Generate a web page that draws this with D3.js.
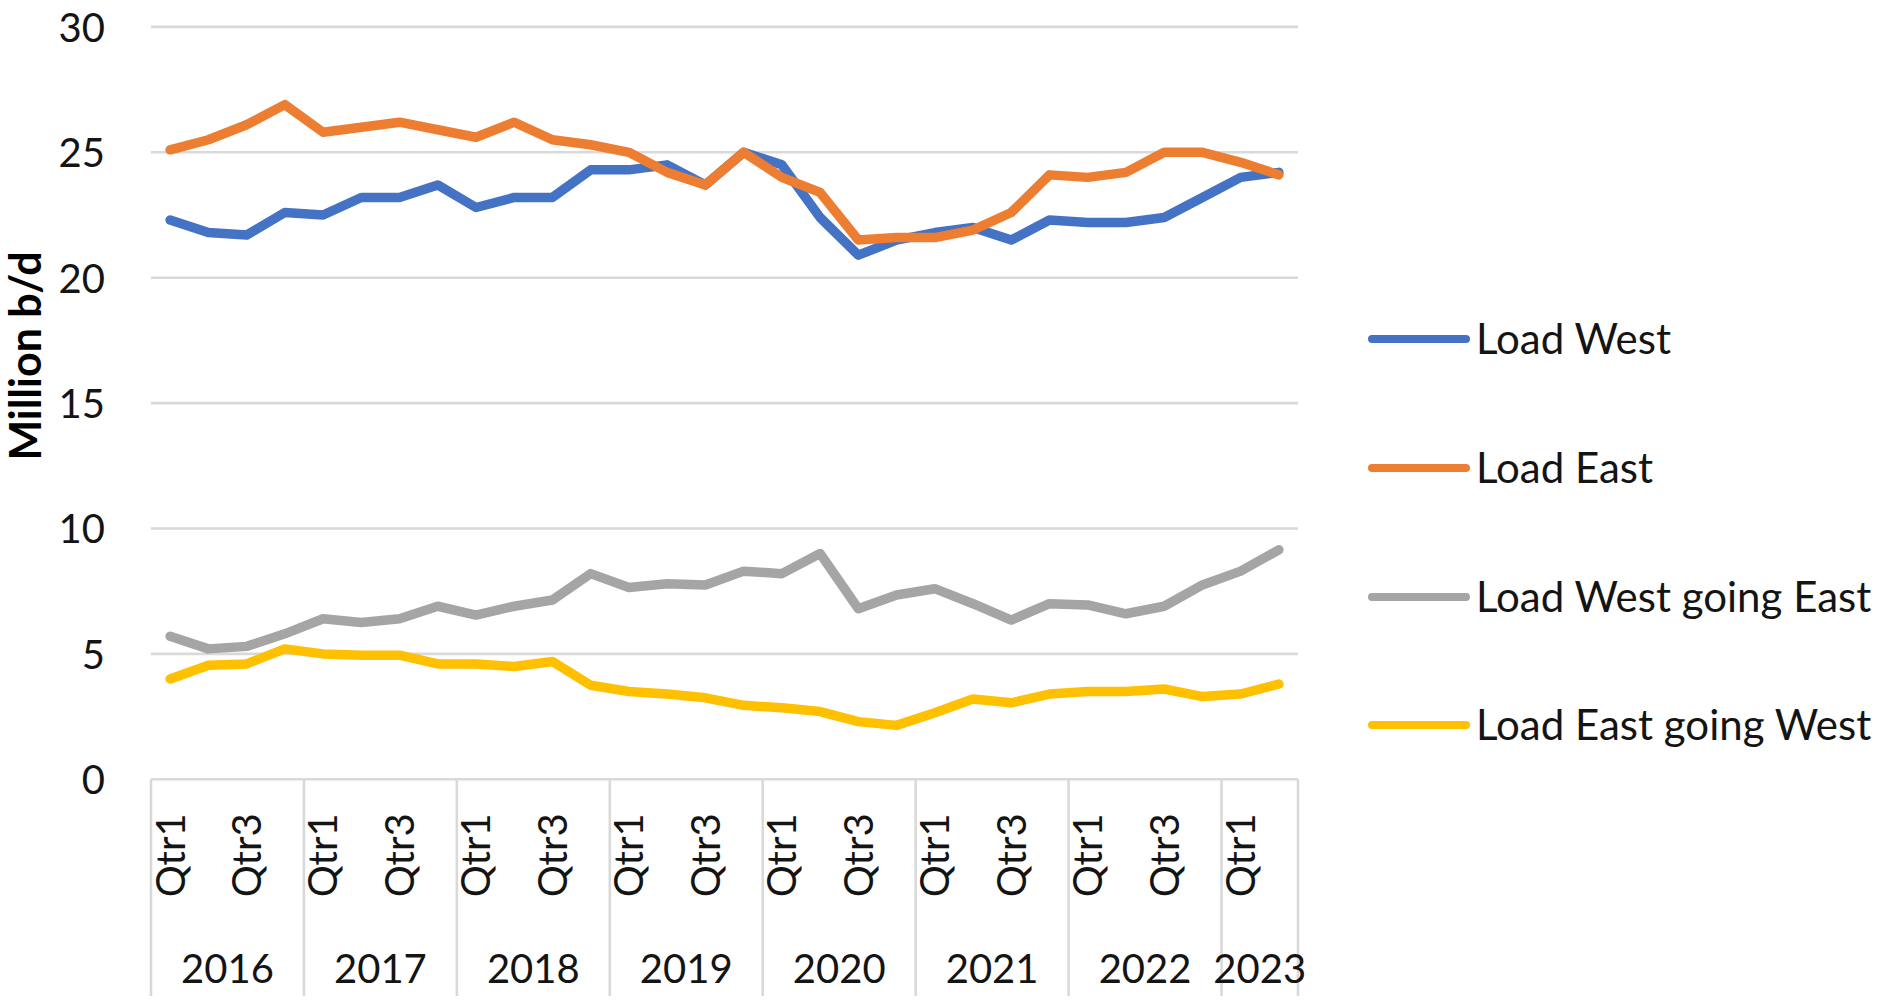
<!DOCTYPE html>
<html>
<head>
<meta charset="utf-8">
<script src="https://cdnjs.cloudflare.com/ajax/libs/d3/7.8.5/d3.min.js"></script>
<style>
  html, body { margin: 0; padding: 0; background: #ffffff; }
  svg { display: block; }
</style>
</head>
<body>
<svg id="chart" width="1900" height="1001"></svg>
<script>
// ---------- data ----------
const years = ["2016", "2017", "2018", "2019", "2020", "2021", "2022", "2023"];
const quarters = ["Qtr1", "Qtr2", "Qtr3", "Qtr4"];
const quartersInLastYear = 2;

const loadWest = [22.3, 21.8, 21.7, 22.6, 22.5, 23.2, 23.2, 23.7, 22.8, 23.2,
                  23.2, 24.3, 24.3, 24.5, 23.7, 25.0, 24.5, 22.4, 20.9, 21.5,
                  21.8, 22.0, 21.5, 22.3, 22.2, 22.2, 22.4, 23.2, 24.0, 24.2];
const loadEast = [25.1, 25.5, 26.1, 26.9, 25.8, 26.0, 26.2, 25.9, 25.6, 26.2,
                  25.5, 25.3, 25.0, 24.2, 23.7, 25.0, 24.0, 23.4, 21.5, 21.6,
                  21.6, 21.9, 22.6, 24.1, 24.0, 24.2, 25.0, 25.0, 24.6, 24.1];
const loadWestGoingEast = [5.7, 5.2, 5.3, 5.8, 6.4, 6.25, 6.4, 6.9, 6.55, 6.9,
                  7.15, 8.2, 7.65, 7.8, 7.75, 8.3, 8.2, 9.0, 6.8, 7.35,
                  7.6, 7.0, 6.35, 7.0, 6.95, 6.6, 6.9, 7.75, 8.3, 9.15];
const loadEastGoingWest = [4.0, 4.55, 4.6, 5.2, 5.0, 4.95, 4.95, 4.6, 4.6, 4.5,
                  4.7, 3.75, 3.5, 3.4, 3.25, 2.95, 2.85, 2.7, 2.3, 2.15,
                  2.65, 3.2, 3.05, 3.4, 3.5, 3.5, 3.6, 3.3, 3.4, 3.8];

const seriesNames = ["Load West", "Load East", "Load West going East", "Load East going West"];
const seriesColors = ["#4472C4", "#ED7D31", "#A5A5A5", "#FFC000"];
const yTicks = [0, 5, 10, 15, 20, 25, 30];
const yTitle = "Million b/d";

// ---------- derived categories ----------
const categories = [];
years.forEach((y, yi) => {
  const nq = yi === years.length - 1 ? quartersInLastYear : quarters.length;
  for (let q = 0; q < nq; q++) categories.push({ year: y, quarter: quarters[q], key: y + "-" + quarters[q] });
});
const seriesData = [loadWest, loadEast, loadWestGoingEast, loadEastGoingWest];

// ---------- layout ----------
const FONT = "Lato, 'Open Sans', sans-serif";
const plot = { left: 151, right: 1298, top: 26.9, bottom: 779.3 };
const gridColor = "#D9D9D9";
const textColor = "#141414";

const svg = d3.select("#chart");

const x = d3.scaleBand()
  .domain(categories.map(c => c.key))
  .range([plot.left, plot.right])
  .padding(0);
const xc = k => x(k) + x.bandwidth() / 2;

const y = d3.scaleLinear().domain([0, 30]).range([plot.bottom, plot.top]);

// gridlines
svg.append("g").selectAll("line")
  .data(yTicks)
  .join("line")
  .attr("x1", plot.left).attr("x2", plot.right)
  .attr("y1", d => y(d)).attr("y2", d => y(d))
  .attr("stroke", gridColor).attr("stroke-width", 2.6);

// y axis labels via d3 axis
const yAxis = d3.axisLeft(y).tickValues(yTicks).tickSize(0).tickPadding(0).tickFormat(d3.format("d"));
const yg = svg.append("g").attr("transform", `translate(${plot.left - 46},0)`).call(yAxis);
yg.select(".domain").remove();
yg.selectAll("text")
  .attr("font-family", FONT).attr("font-size", 40).attr("fill", textColor)
  .attr("dy", "0.36em");

// y title
svg.append("text")
  .attr("transform", `translate(41,356) rotate(-90)`)
  .attr("text-anchor", "middle")
  .attr("font-family", FONT).attr("font-size", 43).attr("font-weight", "bold")
  .attr("fill", "#000")
  .text(yTitle);

// category axis: separators between years
const yearStarts = [];
years.forEach(yr => {
  const first = categories.find(c => c.year === yr);
  yearStarts.push(x(first.key));
});
yearStarts.push(plot.right);
svg.append("g").selectAll("line")
  .data(yearStarts)
  .join("line")
  .attr("x1", d => d).attr("x2", d => d)
  .attr("y1", plot.bottom).attr("y2", 996)
  .attr("stroke", gridColor).attr("stroke-width", 2.6);

// quarter labels (every other category)
const xAxis = d3.axisBottom(x).tickSize(0).tickFormat(k => categories.find(c => c.key === k).quarter)
  .tickValues(categories.filter((c, i) => i % 2 === 0).map(c => c.key));
const xg = svg.append("g").attr("transform", `translate(0,${plot.bottom})`).call(xAxis);
xg.select(".domain").remove();
xg.selectAll(".tick text")
  .attr("font-family", FONT).attr("font-size", 40).attr("fill", textColor)
  .attr("text-anchor", "end")
  .attr("transform", "translate(0,34) rotate(-90)")
  .attr("x", 0).attr("y", 0).attr("dy", "0.36em");

// year labels
svg.append("g").selectAll("text")
  .data(years)
  .join("text")
  .attr("x", (d, i) => (yearStarts[i] + yearStarts[i + 1]) / 2)
  .attr("y", 983)
  .attr("text-anchor", "middle")
  .attr("font-family", FONT).attr("font-size", 40).attr("fill", textColor)
  .text(d => d);

// lines
const line = d3.line()
  .x((d, i) => xc(categories[i].key))
  .y(d => y(d));
svg.append("g").selectAll("path")
  .data(seriesData)
  .join("path")
  .attr("d", d => line(d))
  .attr("fill", "none")
  .attr("stroke", (d, i) => seriesColors[i])
  .attr("stroke-width", 9.5)
  .attr("stroke-linejoin", "round")
  .attr("stroke-linecap", "round");

// legend
const legendY = [339, 468, 597, 725];
const lg = svg.append("g").selectAll("g")
  .data(seriesNames)
  .join("g")
  .attr("transform", (d, i) => `translate(0,${legendY[i]})`);
lg.append("line")
  .attr("x1", 1372).attr("x2", 1466).attr("y1", 0).attr("y2", 0)
  .attr("stroke", (d, i) => seriesColors[i])
  .attr("stroke-width", 8).attr("stroke-linecap", "round");
lg.append("text")
  .attr("x", 1476).attr("y", 0).attr("dy", "0.36em")
  .attr("font-family", FONT).attr("font-size", 42).attr("fill", textColor)
  .text(d => d);
</script>
</body>
</html>
